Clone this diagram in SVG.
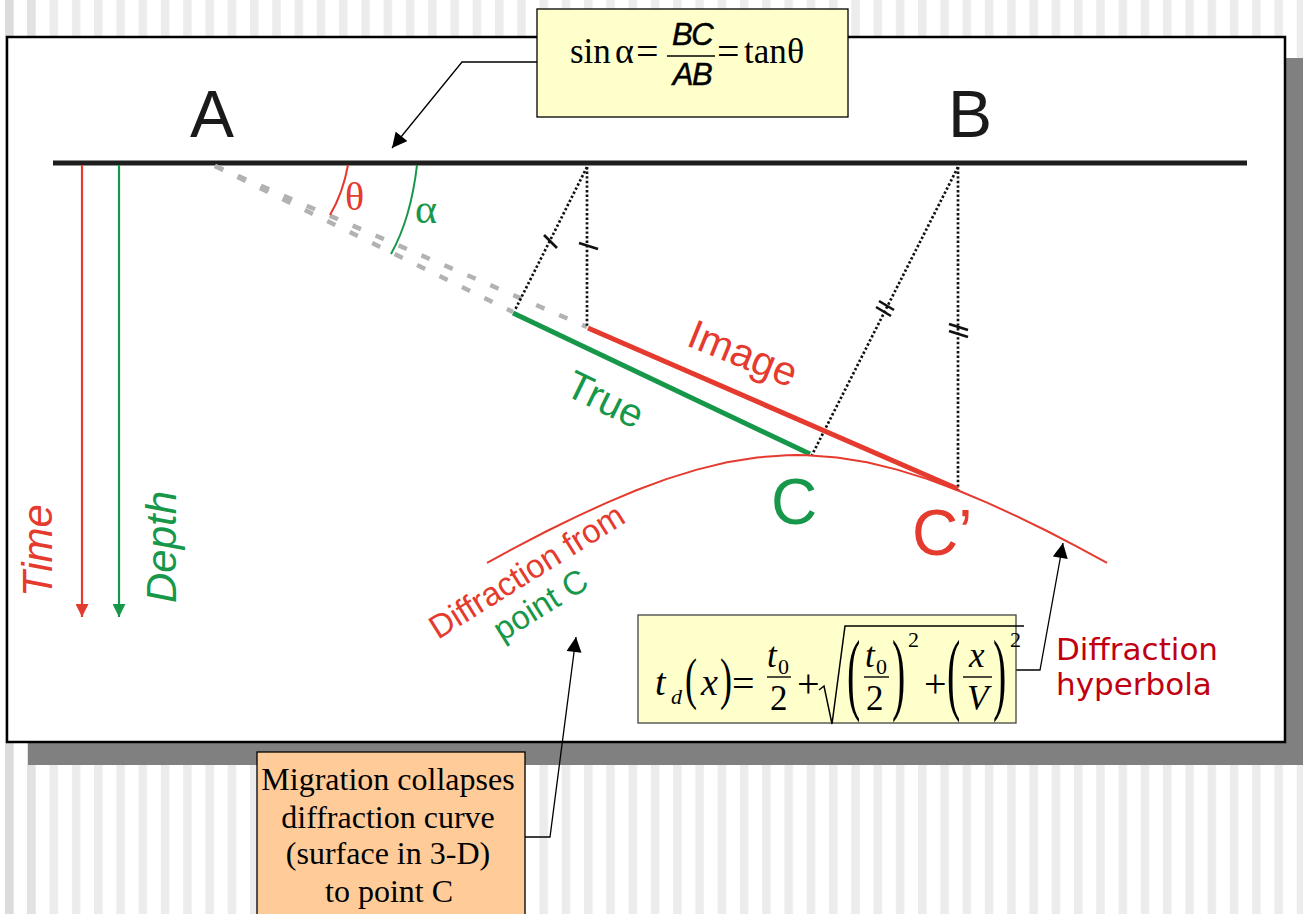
<svg xmlns="http://www.w3.org/2000/svg" width="1303" height="914" viewBox="0 0 1303 914">
<style>
.sans{font-family:"Liberation Sans",Arial,sans-serif}
.serif{font-family:"Liberation Serif","Times New Roman",serif}
.dv{font-family:"DejaVu Sans",Verdana,sans-serif}
.it{font-style:italic}
.red{fill:#e53a2e}
.grn{fill:#17974a}
.dot{stroke:#111;stroke-width:2.7;stroke-dasharray:2.4 2.2;fill:none}
.tick{stroke:#111;stroke-width:2.6}
.gdash{stroke:#b2b2b2;stroke-width:4.5;stroke-dasharray:9 16;fill:none}
.conn{stroke:#000;stroke-width:1.3;fill:none}
.bar{stroke:#000;stroke-width:1.4}
</style>
<defs>
<pattern id="stripes" x="5" y="0" width="22.27" height="20" patternUnits="userSpaceOnUse">
<rect x="0" y="0" width="8.5" height="20" fill="#ececec"/>
</pattern>
<marker id="ah" viewBox="0 0 10 10" refX="10" refY="5" markerWidth="16" markerHeight="15" orient="auto" markerUnits="userSpaceOnUse">
<path d="M0,0 L10,5 L0,10 z" fill="#000"/>
</marker>
<marker id="ahR" viewBox="0 0 10 10" refX="10" refY="5" markerWidth="17" markerHeight="13" orient="auto" markerUnits="userSpaceOnUse">
<path d="M0,0 L10,5 L0,10 z" fill="#e53a2e"/>
</marker>
<marker id="ahG" viewBox="0 0 10 10" refX="10" refY="5" markerWidth="17" markerHeight="13" orient="auto" markerUnits="userSpaceOnUse">
<path d="M0,0 L10,5 L0,10 z" fill="#17974a"/>
</marker>
</defs>

<!-- background -->
<rect x="0" y="0" width="1303" height="914" fill="#ffffff"/>
<rect x="0" y="0" width="1303" height="914" fill="url(#stripes)"/>
<rect x="5" y="0" width="8.5" height="914" fill="#dcdcdc"/>
<rect x="27" y="0" width="8.5" height="914" fill="#e2e2e2"/>

<!-- panel -->
<rect x="28" y="58" width="1290" height="707" fill="#808080"/>
<rect x="7" y="37" width="1278" height="705" fill="#ffffff" stroke="#000" stroke-width="2.5"/>

<!-- surface -->
<g id="surface">
<line x1="53" y1="163" x2="1247" y2="163" stroke="#1e1e1e" stroke-width="5"/>
<text x="190" y="137" class="sans" font-size="66" fill="#1a1a1a">A</text>
<text x="948" y="137" class="sans" font-size="66" fill="#1a1a1a">B</text>
</g>

<!-- axes -->
<g id="axes">
<line x1="82" y1="165" x2="82" y2="617" stroke="#e53a2e" stroke-width="2.2" marker-end="url(#ahR)"/>
<line x1="119" y1="165" x2="119" y2="617" stroke="#17974a" stroke-width="2.2" marker-end="url(#ahG)"/>
<text transform="translate(52,597) rotate(-90)" class="sans it red" font-size="42">Time</text>
<text transform="translate(176,603) rotate(-90)" class="sans it grn" font-size="42">Depth</text>
</g>

<!-- angle construction -->
<g id="angles">
<line x1="215" y1="166" x2="513" y2="312" class="gdash"/>
<line x1="215" y1="166" x2="587" y2="327" class="gdash"/>
<path d="M348,165 Q343,193 330,215" stroke="#e53a2e" stroke-width="2" fill="none"/>
<path d="M417,165 Q411,218 391,254" stroke="#17974a" stroke-width="2" fill="none"/>
<text x="345" y="210" class="serif red" font-size="40">θ</text>
<text x="415" y="223" class="serif grn" font-size="42">α</text>
</g>

<!-- dotted constructions -->
<g id="connectors-dotted">
<line x1="587" y1="167" x2="515" y2="310" class="dot"/>
<line x1="587" y1="167" x2="587" y2="327" class="dot"/>
<line x1="958" y1="167" x2="812" y2="455" class="dot"/>
<line x1="958" y1="167" x2="958" y2="490" class="dot"/>
<line x1="544" y1="235" x2="557" y2="248" class="tick"/>
<line x1="579" y1="243" x2="598" y2="249" class="tick"/>
<line x1="879" y1="301" x2="894" y2="310" class="tick"/>
<line x1="876" y1="307" x2="891" y2="316" class="tick"/>
<line x1="949" y1="324" x2="968" y2="330" class="tick"/>
<line x1="949" y1="331" x2="968" y2="337" class="tick"/>
</g>

<!-- reflectors -->
<g id="true-reflector">
<line x1="513" y1="313" x2="810" y2="454" stroke="#17974a" stroke-width="5"/>
<text transform="translate(563,394) rotate(26)" class="sans grn" font-size="40">True</text>
</g>
<g id="image-reflector">
<line x1="588" y1="328" x2="958" y2="489" stroke="#e53a2e" stroke-width="5"/>
<text transform="translate(685,345) rotate(22)" class="sans red" font-size="41">Image</text>
</g>

<!-- diffraction curve -->
<g id="diffraction">
<path d="M487,562.8 L517,546.6 L547,531 L577,516.3 L607,502.6 L637,490 L667,478.9 L697,469.6 L727,462.3 L757,457.4 L787,455.2 L797,455 L807,455.2 L837,457.4 L867,462.3 L897,469.6 L927,478.9 L957,490 L987,502.6 L1017,516.3 L1047,531 L1077,546.6 L1107,562.8" stroke="#e53a2e" stroke-width="2" fill="none" stroke-linejoin="round"/>
<text x="771" y="524" class="sans grn" font-size="64">C</text>
<text x="912" y="555" class="sans red" font-size="64">C’</text>
<text transform="translate(438,640) rotate(-32)" class="sans red" font-size="33">Diffraction from</text>
<text transform="translate(502,642) rotate(-32)" class="sans grn" font-size="33">point C</text>
</g>

<!-- connectors -->
<g id="connectors">
<path d="M537,62 L462,62 L392,148" class="conn" marker-end="url(#ah)"/>
<path d="M1016,670 L1040,670 L1063,543" class="conn" marker-end="url(#ah)"/>
<path d="M525,837 L550,837 L576,637" class="conn" marker-end="url(#ah)"/>
</g>

<!-- top formula box -->
<g id="formula-top">
<rect x="537" y="9" width="311" height="108" fill="#ffffcc" stroke="#000" stroke-width="1.3"/>
<text x="570" y="63" class="serif" font-size="35">sin</text>
<text x="615" y="63" class="serif" font-size="36">α</text>
<text x="636" y="65" class="serif" font-size="40">=</text>
<text x="692" y="45" class="sans it" font-size="31" text-anchor="middle" letter-spacing="-1.5" stroke="#000" stroke-width="0.5">BC</text>
<line x1="667" y1="56" x2="715" y2="56" class="bar"/>
<text x="692" y="85" class="sans it" font-size="31" text-anchor="middle" letter-spacing="-1.5" stroke="#000" stroke-width="0.5">AB</text>
<text x="717" y="65" class="serif" font-size="40">=</text>
<text x="744" y="63" class="serif" font-size="35">tan</text>
<text x="787" y="63" class="serif" font-size="36">θ</text>
</g>

<!-- bottom formula box -->
<g id="formula-hyperbola">
<rect x="638" y="615" width="378" height="108" fill="#ffffcc" stroke="#444" stroke-width="1.3"/>
<text x="655" y="695" class="serif it" font-size="38">t</text>
<text x="671" y="704" class="serif it" font-size="22">d</text>
<text transform="translate(685,698) scale(1,1.6)" class="serif" font-size="36">(</text>
<text x="701" y="695" class="serif it" font-size="38">x</text>
<text transform="translate(720,698) scale(1,1.6)" class="serif" font-size="36">)</text>
<text x="732" y="697" class="serif" font-size="40">=</text>
<text x="767" y="667" class="serif it" font-size="35">t</text>
<text x="778" y="674" class="serif" font-size="22">0</text>
<line x1="767" y1="677" x2="791" y2="677" class="bar"/>
<text x="770" y="710" class="serif" font-size="35">2</text>
<text x="797" y="697" class="serif" font-size="40">+</text>
<polyline points="819,690 824,686 832,724 845,626 1024,626" stroke="#000" stroke-width="1.5" fill="none"/>
<text transform="translate(847,703) scale(1,2.3)" class="serif" font-size="40">(</text>
<text x="865" y="667" class="serif it" font-size="35">t</text>
<text x="876" y="674" class="serif" font-size="22">0</text>
<line x1="864" y1="677" x2="889" y2="677" class="bar"/>
<text x="866" y="710" class="serif" font-size="35">2</text>
<text transform="translate(892,703) scale(1,2.3)" class="serif" font-size="40">)</text>
<text x="908" y="647" class="serif" font-size="22">2</text>
<text x="924" y="697" class="serif" font-size="40">+</text>
<text transform="translate(947,703) scale(1,2.3)" class="serif" font-size="40">(</text>
<text x="969" y="667" class="serif it" font-size="35">x</text>
<line x1="963" y1="677" x2="992" y2="677" class="bar"/>
<text x="967" y="710" class="serif it" font-size="35">V</text>
<text transform="translate(993,703) scale(1,2.3)" class="serif" font-size="40">)</text>
<text x="1010" y="647" class="serif" font-size="22">2</text>
</g>

<g id="label-hyperbola">
<text x="1056" y="660" class="dv" font-size="31" fill="#c00010">Diffraction</text>
<text x="1056" y="695" class="dv" font-size="31" fill="#c00010">hyperbola</text>
</g>

<!-- migration note -->
<g id="note-migration">
<rect x="257" y="752" width="268" height="175" fill="#ffcc99" stroke="#000" stroke-width="1.3"/>
<text x="388" y="790" class="serif" font-size="32" text-anchor="middle">Migration collapses</text>
<text x="388" y="828" class="serif" font-size="32" text-anchor="middle">diffraction curve</text>
<text x="388" y="864" class="serif" font-size="32" text-anchor="middle">(surface in 3-D)</text>
<text x="389" y="902" class="serif" font-size="32" text-anchor="middle">to point C</text>
</g>
</svg>
